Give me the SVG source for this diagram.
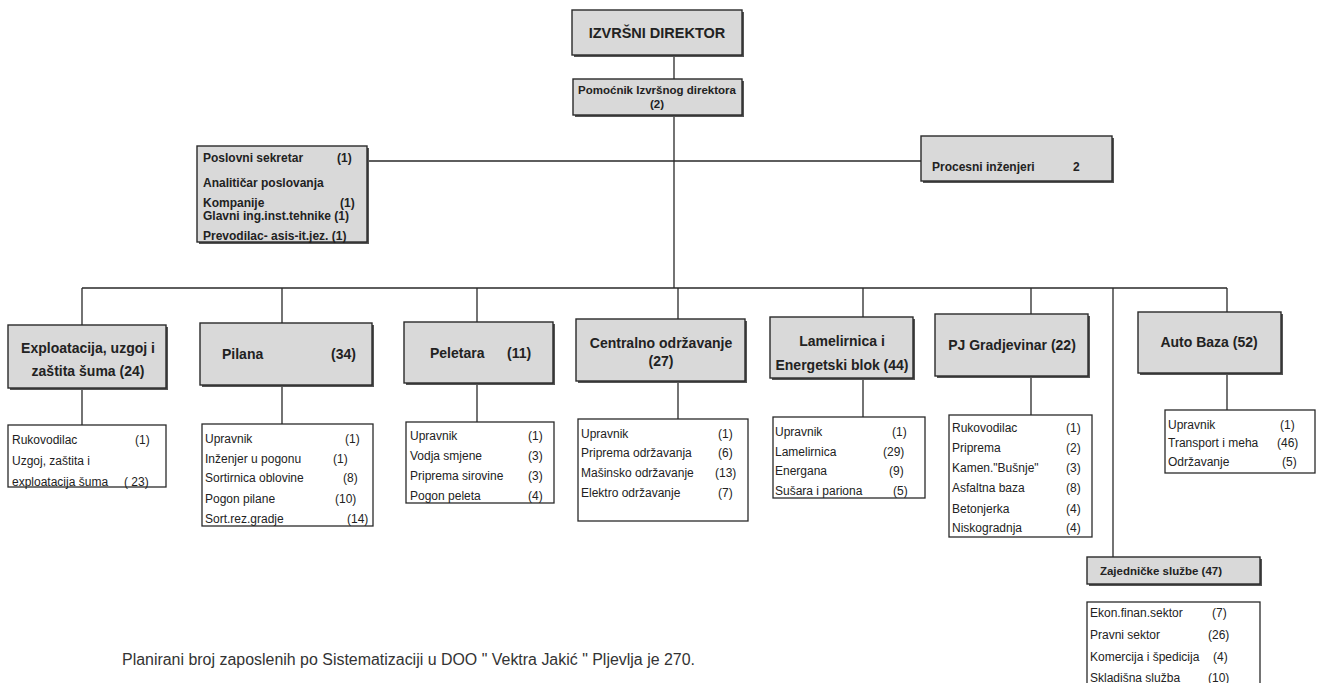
<svg xmlns="http://www.w3.org/2000/svg" width="1317" height="683" viewBox="0 0 1317 683">
<style>
.g{fill:#d9d9d9;stroke:#2a2a2a;stroke-width:1.4}
.s{fill:#555}
.w{fill:#fff;stroke:#2a2a2a;stroke-width:1.3}
.c{fill:none;stroke:#2a2a2a;stroke-width:1.3}
.b{font-family:"Liberation Sans",Arial,sans-serif;font-weight:bold;fill:#222}
.t{font-family:"Liberation Sans",Arial,sans-serif;font-size:12px;fill:#222}
.m{text-anchor:middle}
.ft{font-family:"Liberation Sans",Arial,sans-serif;font-size:16px;fill:#333}
</style>
<defs>
<clipPath id="clipAuto"><rect x="1165" y="430" width="102" height="20"/></clipPath>
</defs>
<g id="connectors">
<path class="c" d="M674 55V79M674 115V288M367 161H921M82 288H1227"/>
<path class="c" d="M82 288V325M282 288V323M477 288V322M678 288V319M863 288V317M1031 288V314M1113 288V557M1227 288V312"/>
<path class="c" d="M82 388V425M282 385V424M477 383V422M678 381V419M863 378V417M1031 376V415M1227 373V410"/>
</g>
<g id="izvrsni">
<rect class="s" x="574" y="12" width="170" height="45"/>
<rect class="g" x="572" y="10" width="170" height="45"/>
<text class="b m" x="657" y="38" font-size="14.5">IZVRŠNI DIREKTOR</text>
</g>
<g id="pomocnik">
<rect class="s" x="575" y="81" width="169" height="36"/>
<rect class="g" x="573" y="79" width="169" height="36"/>
<text class="b m" x="657" y="94" font-size="11.5">Pomoćnik Izvršnog direktora</text>
<text class="b m" x="657" y="108" font-size="11.5">(2)</text>
</g>
<g id="staff">
<rect class="s" x="199" y="148" width="170" height="96"/>
<rect class="g" x="197" y="146" width="170" height="96"/>
<g class="b" font-size="12">
<text x="203" y="162">Poslovni sekretar</text><text x="337" y="162">(1)</text>
<text x="203" y="187">Analitičar poslovanja</text>
<text x="203" y="207">Kompanije</text><text x="340" y="207">(1)</text>
<text x="203" y="220">Glavni ing.inst.tehnike (1)</text>
<text x="203" y="240">Prevodilac- asis-it.jez.  (1)</text>
</g>
</g>
<g id="procesni">
<rect class="s" x="923" y="138" width="191" height="45"/>
<rect class="g" x="921" y="136" width="191" height="45"/>
<text class="b" x="932" y="171" font-size="12">Procesni inženjeri</text>
<text class="b" x="1073" y="171" font-size="12">2</text>
</g>
<g id="exploatacija">
<rect class="s" x="10" y="327" width="158" height="63"/>
<rect class="g" x="8" y="325" width="158" height="63"/>
<text class="b m" x="88" y="353" font-size="14">Exploatacija, uzgoj i</text>
<text class="b m" x="88" y="376" font-size="14">zaštita šuma  (24)</text>
</g>
<g id="exploatacija-sub">
<rect class="w" x="8" y="425" width="158" height="62"/>
<text class="t" x="12" y="444">Rukovodilac</text><text class="t" x="135" y="444">(1)</text>
<text class="t" x="12" y="465">Uzgoj, zaštita i</text>
<text class="t" x="12" y="486">exploatacija šuma</text><text class="t" x="124" y="486">( 23)</text>
</g>
<g id="pilana">
<rect class="s" x="202" y="325" width="172" height="62"/>
<rect class="g" x="200" y="323" width="172" height="62"/>
<text class="b" x="222" y="359" font-size="14">Pilana</text>
<text class="b" x="331" y="359" font-size="14">(34)</text>
</g>
<g id="pilana-sub">
<rect class="w" x="202" y="424" width="171" height="102"/>
<text class="t" x="205" y="443">Upravnik</text><text class="t" x="345" y="443">(1)</text>
<text class="t" x="205" y="463">Inženjer u pogonu</text><text class="t" x="333" y="463">(1)</text>
<text class="t" x="205" y="482">Sortirnica oblovine</text><text class="t" x="343" y="482">(8)</text>
<text class="t" x="205" y="503">Pogon pilane</text><text class="t" x="335" y="503">(10)</text>
<text class="t" x="205" y="523">Sort.rez.gradje</text><text class="t" x="347" y="523">(14)</text>
</g>
<g id="peletara">
<rect class="s" x="406" y="324" width="149" height="61"/>
<rect class="g" x="404" y="322" width="149" height="61"/>
<text class="b" x="430" y="358" font-size="14">Peletara</text>
<text class="b" x="507" y="358" font-size="14">(11)</text>
</g>
<g id="peletara-sub">
<rect class="w" x="406" y="422" width="148" height="81"/>
<text class="t" x="410" y="440">Upravnik</text><text class="t" x="528" y="440">(1)</text>
<text class="t" x="410" y="460">Vodja smjene</text><text class="t" x="528" y="460">(3)</text>
<text class="t" x="410" y="480">Priprema sirovine</text><text class="t" x="528" y="480">(3)</text>
<text class="t" x="410" y="500">Pogon peleta</text><text class="t" x="528" y="500">(4)</text>
</g>
<g id="centralno">
<rect class="s" x="578" y="321" width="169" height="62"/>
<rect class="g" x="576" y="319" width="169" height="62"/>
<text class="b m" x="661" y="348" font-size="14">Centralno održavanje</text>
<text class="b m" x="661" y="366" font-size="14">(27)</text>
</g>
<g id="centralno-sub">
<rect class="w" x="578" y="419" width="170" height="102"/>
<text class="t" x="581" y="438">Upravnik</text><text class="t" x="718" y="438">(1)</text>
<text class="t" x="581" y="457">Priprema održavanja</text><text class="t" x="718" y="457">(6)</text>
<text class="t" x="581" y="477">Mašinsko održavanje</text><text class="t" x="715" y="477">(13)</text>
<text class="t" x="581" y="497">Elektro održavanje</text><text class="t" x="718" y="497">(7)</text>
</g>
<g id="lamelirnica">
<rect class="s" x="772" y="319" width="143" height="61"/>
<rect class="g" x="770" y="317" width="143" height="61"/>
<text class="b m" x="842" y="346" font-size="14">Lamelirnica i</text>
<text class="b m" x="842" y="370" font-size="14">Energetski blok (44)</text>
</g>
<g id="lamelirnica-sub">
<rect class="w" x="773" y="417" width="152" height="81"/>
<text class="t" x="775" y="436">Upravnik</text><text class="t" x="892" y="436">(1)</text>
<text class="t" x="775" y="456">Lamelirnica</text><text class="t" x="883" y="456">(29)</text>
<text class="t" x="775" y="475">Energana</text><text class="t" x="889" y="475">(9)</text>
<text class="t" x="775" y="495">Sušara i pariona</text><text class="t" x="893" y="495">(5)</text>
</g>
<g id="gradjevinar">
<rect class="s" x="937" y="316" width="153" height="62"/>
<rect class="g" x="935" y="314" width="153" height="62"/>
<text class="b m" x="1012" y="350" font-size="14">PJ Gradjevinar (22)</text>
</g>
<g id="gradjevinar-sub">
<rect class="w" x="949" y="415" width="143" height="122"/>
<text class="t" x="952" y="432">Rukovodilac</text><text class="t" x="1066" y="432">(1)</text>
<text class="t" x="952" y="452">Priprema</text><text class="t" x="1066" y="452">(2)</text>
<text class="t" x="952" y="472">Kamen."Bušnje"</text><text class="t" x="1066" y="472">(3)</text>
<text class="t" x="952" y="492">Asfaltna baza</text><text class="t" x="1066" y="492">(8)</text>
<text class="t" x="952" y="513">Betonjerka</text><text class="t" x="1066" y="513">(4)</text>
<text class="t" x="952" y="532">Niskogradnja</text><text class="t" x="1066" y="532">(4)</text>
</g>
<g id="autobaza">
<rect class="s" x="1140" y="314" width="143" height="61"/>
<rect class="g" x="1138" y="312" width="143" height="61"/>
<text class="b m" x="1209" y="347" font-size="14">Auto Baza (52)</text>
</g>
<g id="autobaza-sub">
<rect class="w" x="1165" y="410" width="150" height="63"/>
<text class="t" x="1168" y="429">Upravnik</text><text class="t" x="1280" y="429">(1)</text>
<text class="t" x="1168" y="447" clip-path="url(#clipAuto)">Transport i meha</text><text class="t" x="1277" y="447">(46)</text>
<text class="t" x="1168" y="466">Održavanje</text><text class="t" x="1282" y="466">(5)</text>
</g>
<g id="zajednicke">
<rect class="s" x="1089" y="559" width="173" height="27"/>
<rect class="g" x="1087" y="557" width="173" height="27"/>
<text class="b m" x="1161" y="575" font-size="11.5">Zajedničke službe (47)</text>
</g>
<g id="zajednicke-sub">
<rect class="w" x="1087" y="602" width="173" height="90"/>
<text class="t" x="1090" y="617">Ekon.finan.sektor</text><text class="t" x="1212" y="617">(7)</text>
<text class="t" x="1090" y="639">Pravni sektor</text><text class="t" x="1208" y="639">(26)</text>
<text class="t" x="1090" y="661">Komercija i špedicija</text><text class="t" x="1213" y="661">(4)</text>
<text class="t" x="1090" y="682">Skladišna služba</text><text class="t" x="1208" y="682">(10)</text>
</g>
<g id="note">
<text class="ft" x="122" y="665" textLength="573" lengthAdjust="spacingAndGlyphs">Planirani broj zaposlenih po Sistematizaciji u DOO " Vektra Jakić " Pljevlja je 270.</text>
</g>
</svg>
